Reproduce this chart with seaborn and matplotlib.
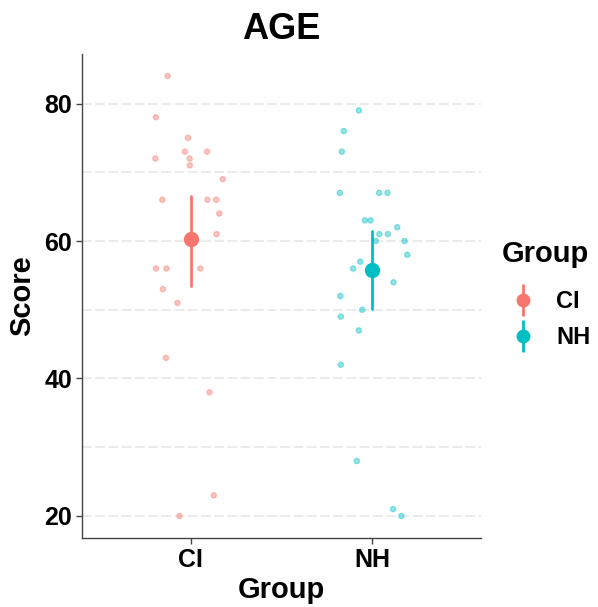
import numpy as np
import pandas as pd
import matplotlib
matplotlib.use("Agg")
import matplotlib.pyplot as plt
from matplotlib.lines import Line2D
from matplotlib.legend_handler import HandlerTuple
from matplotlib.ticker import MultipleLocator
import seaborn as sns

# Age scores per group
groups = ["CI", "NH"]
ci_scores = [84, 78, 75, 73, 73, 72, 72, 71, 69, 66, 66, 66, 64, 61,
             56, 56, 56, 53, 51, 43, 38, 23, 20]
nh_scores = [79, 76, 73, 67, 67, 67, 63, 63, 62, 61, 61, 60, 60, 58,
             57, 56, 54, 52, 50, 49, 47, 42, 28, 21, 20]
y_ticks = [20, 40, 60, 80]
palette = {"CI": "#F8766D", "NH": "#00BFC4"}

df = pd.DataFrame({
    "Group": ["CI"] * len(ci_scores) + ["NH"] * len(nh_scores),
    "Score": ci_scores + nh_scores,
})

sns.set_theme(style="white")
plt.rcParams["font.family"] = ["Liberation Sans", "DejaVu Sans"]
plt.rcParams["font.weight"] = "bold"
plt.rcParams["text.color"] = "black"
plt.rcParams["axes.labelcolor"] = "black"

fig = plt.figure(figsize=(5.98, 6.07), dpi=100)
ax = fig.add_axes([0.137, 0.1137, 0.667, 0.7973])

np.random.seed(11)
sns.stripplot(data=df, x="Group", y="Score", hue="Group", order=groups,
              hue_order=groups, palette=palette, jitter=0.2, size=3.8,
              alpha=0.42, linewidth=0.9, legend=False, ax=ax, zorder=2)
# give each raw point a ring in its own colour
for coll in ax.collections:
    coll.set_edgecolor(coll.get_facecolor())

sns.pointplot(data=df, x="Group", y="Score", hue="Group", order=groups,
              hue_order=groups, palette=palette, errorbar=("ci", 95),
              seed=3, linestyles="none", markers="o", markersize=9,
              err_kws={"linewidth": 2.0}, dodge=False, legend=False,
              ax=ax)

ax.set_xlim(-0.6, 1.6)
ax.set_ylim(16.8, 87.2)
ax.set_yticks(y_ticks)
ax.yaxis.set_minor_locator(MultipleLocator(10))

for v in range(20, 81, 10):
    ax.axhline(v, color="#EBEBEB", lw=1.4, ls=(0, (5, 1.8)), zorder=0)

for side in ["top", "right"]:
    ax.spines[side].set_visible(False)
for side in ["left", "bottom"]:
    ax.spines[side].set_color("#444444")
    ax.spines[side].set_linewidth(1.0)

ax.tick_params(axis="both", which="major", length=4, width=1,
               color="#444444", labelsize=18, labelcolor="black", pad=3,
               left=True, bottom=True)
ax.tick_params(axis="y", which="minor", length=0)
for lab in ax.get_xticklabels() + ax.get_yticklabels():
    lab.set_fontweight("bold")

ax.set_xlabel("Group", fontsize=21, fontweight="bold", labelpad=3,
              color="black")
ax.set_ylabel("Score", fontsize=21, fontweight="bold", labelpad=6,
              color="black")
ax.set_title("AGE", fontsize=26, fontweight="bold", pad=11, color="black")

# legend: vertical error bar with a dot for each group
handles = []
for g in groups:
    bar = Line2D([], [], marker="|", color=palette[g], markersize=23,
                 markeredgewidth=2.0, linestyle="none")
    dot = Line2D([], [], marker="o", color=palette[g], markersize=9,
                 linestyle="none")
    handles.append((bar, dot))

leg = fig.legend(handles, groups, handler_map={tuple: HandlerTuple(ndivide=1)},
                 loc="center left", bbox_to_anchor=(0.811, 0.4736),
                 frameon=False, fontsize=17,
                 handlelength=1.4, handletextpad=0.72, labelspacing=0.55)
for t in leg.get_texts():
    t.set_fontweight("bold")
    t.set_color("black")

fig.text(0.839, 0.581, "Group", fontsize=21, fontweight="bold",
         color="black", ha="left", va="center")

fig.savefig("out.png", dpi=100)
